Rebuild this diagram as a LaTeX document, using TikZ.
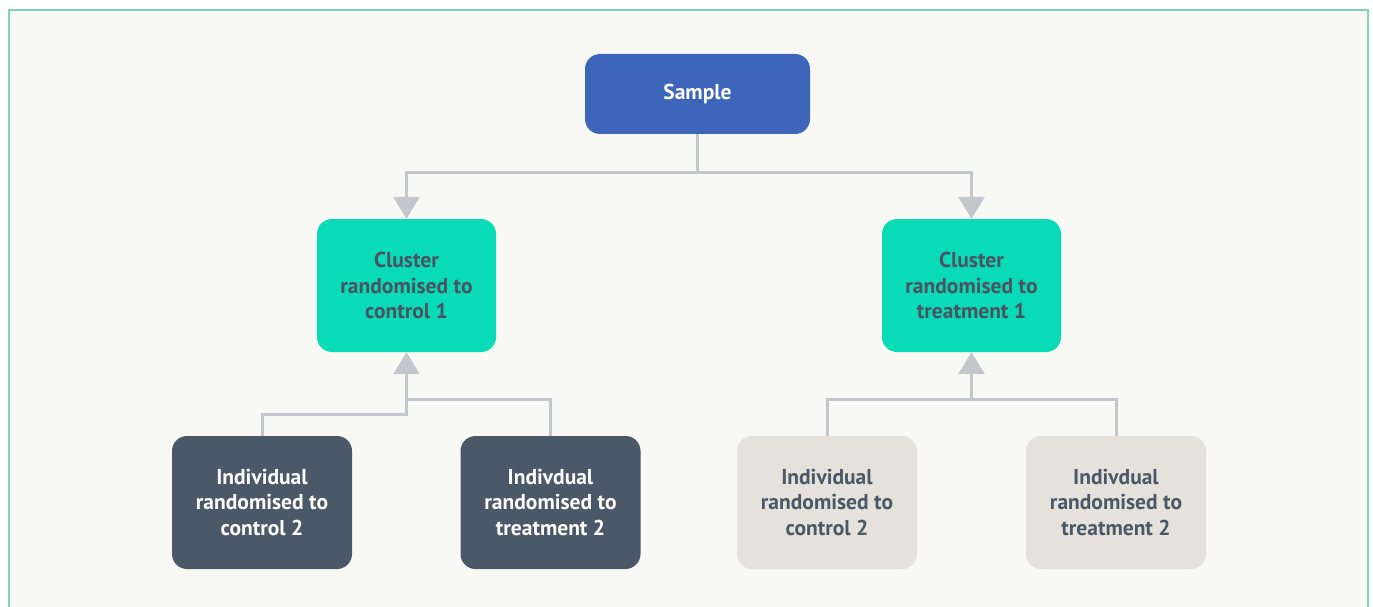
\documentclass[tikz,border=0pt]{standalone}
\usepackage{fontspec}
\setmainfont{PT Sans}
\usepackage{tikz}
\usetikzlibrary{arrows.meta}
\definecolor{samplefill}{HTML}{3D66BB}
\definecolor{clusterfill}{HTML}{08DBB5}
\definecolor{darkfill}{HTML}{4A5868}
\definecolor{lightfill}{HTML}{E4E2DA}
\definecolor{inktext}{HTML}{4B5263}
\definecolor{linkgray}{HTML}{C3C7CC}
\definecolor{framegreen}{HTML}{7ED3BC}
\definecolor{paper}{HTML}{F8F8F4}

\begin{document}
\begin{tikzpicture}[x=1pt,y=-1pt,
	box/.style={rounded corners=15pt, align=center, inner sep=0pt,
		font=\bfseries\fontsize{21.5}{25.5}\selectfont},
	samplebox/.style={box, fill=samplefill, text=white, minimum width=225pt, minimum height=80pt},
	clusterbox/.style={box, fill=clusterfill, text=inktext, minimum width=179pt, minimum height=133pt},
	darkbox/.style={box, fill=darkfill, text=white, minimum width=180pt, minimum height=133pt},
	lightbox/.style={box, fill=lightfill, text=darkfill, minimum width=180pt, minimum height=133pt},
	link/.style={draw=linkgray, line width=3pt},
	arrow/.style={link, -{Triangle[width=26pt,length=22pt]}}]
	
	\useasboundingbox (0,0) rectangle (1373,607);
	\fill[paper] (9,10) rectangle (1368,607);
	\draw[framegreen, line width=2pt] (9,607) -- (9,10) -- (1368,10) -- (1368,607);
	
	\node[samplebox] (Sample) at (697.5,94) {Sample};
	
	\node[clusterbox] (Control1) at (406.5,285.5) {Cluster\\randomised to\\control 1};
	\node[clusterbox] (Treatment1) at (971.5,285.5) {Cluster\\randomised to\\treatment 1};
	
	\node[darkbox] (DarkControl2) at (262,502.5) {Individual\\randomised to\\control 2};
	\node[darkbox] (DarkTreatment2) at (550.5,502.5) {Indivdual\\randomised to\\treatment 2};
	\node[lightbox] (LightControl2) at (827,502.5) {Individual\\randomised to\\control 2};
	\node[lightbox] (LightTreatment2) at (1116,502.5) {Indivdual\\randomised to\\treatment 2};
	
	\coordinate (SplitTop) at (697.5,172);
	\coordinate (JoinLeftLow) at (406.5,414);
	\coordinate (JoinLeft) at (406.5,399);
	\coordinate (JoinRight) at (971.5,399);
	
	\draw[link] (Sample.south) -- (SplitTop);
	\draw[arrow] (SplitTop) -| (Control1.north);
	\draw[arrow] (SplitTop) -| (Treatment1.north);
	
	\draw[arrow] (DarkControl2.north) |- (JoinLeftLow) -- (Control1.south);
	\draw[link] (DarkTreatment2.north) |- (JoinLeft);
	
	\draw[link] (LightControl2.north) |- (JoinRight) -| (LightTreatment2.north);
	\draw[arrow] (JoinRight) -- (Treatment1.south);
	
\end{tikzpicture}
\end{document}
